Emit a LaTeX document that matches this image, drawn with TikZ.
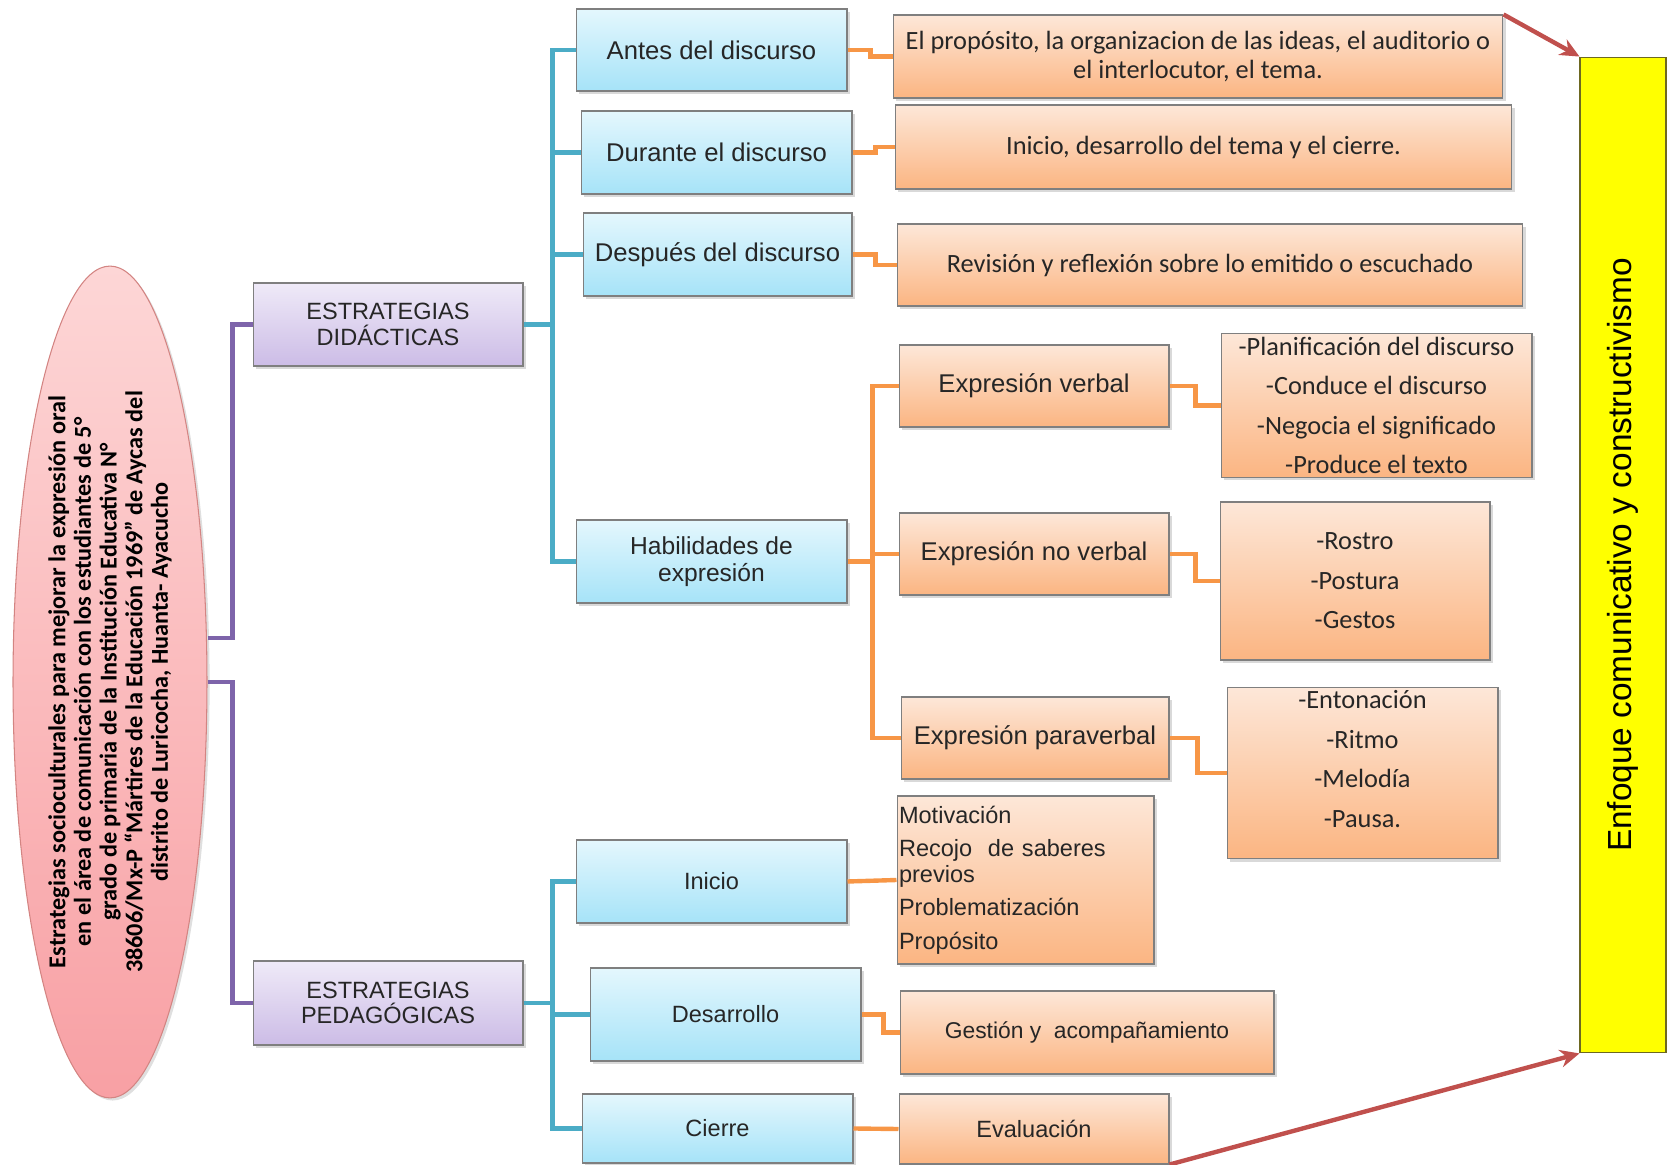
\documentclass[tikz,border=0pt]{standalone}
\usepackage{fontspec}
\setmainfont{Liberation Sans}
\newfontfamily\calfont{Carlito}
\usetikzlibrary{arrows.meta,shadows,shapes.geometric}

\definecolor{bluetop}{HTML}{E4F7FD}
\definecolor{bluebot}{HTML}{A6E3F8}
\definecolor{orangetop}{HTML}{FDE7D8}
\definecolor{orangebot}{HTML}{FBB582}
\definecolor{purpletop}{HTML}{EFEAF8}
\definecolor{purplebot}{HTML}{CCBCE6}
\definecolor{pinktop}{HTML}{FDD6D6}
\definecolor{pinkbot}{HTML}{F8A0A4}
\definecolor{linepurple}{HTML}{7E64AA}
\definecolor{lineblue}{HTML}{4BACC6}
\definecolor{lineorange}{HTML}{F79646}
\definecolor{arrowred}{HTML}{C0504D}
\definecolor{boxborder}{HTML}{7F7F7F}
\definecolor{enfoqueyellow}{HTML}{FFFF00}

\begin{document}
\begin{tikzpicture}[x=0.02cm,y=-0.02cm,
    box/.style={draw=boxborder,line width=0.6pt,inner sep=2pt,align=center,text=black!85,
        drop shadow={opacity=0.3,shadow xshift=1.5pt,shadow yshift=-1.5pt}},
    bluebox/.style={box,top color=bluetop,bottom color=bluebot,font=\fontsize{14.6}{15.5}\selectfont},
    purplebox/.style={box,top color=purpletop,bottom color=purplebot,font=\fontsize{13.4}{14.5}\selectfont},
    orangebox/.style={box,top color=orangetop,bottom color=orangebot,font=\fontsize{14.6}{16}\selectfont},
    notebox/.style={box,top color=orangetop,bottom color=orangebot,font=\calfont\fontsize{15}{16.2}\selectfont},
    listbox/.style={box,top color=orangetop,bottom color=orangebot,font=\calfont\fontsize{15}{22.5}\selectfont},
    purpleline/.style={draw=linepurple,line width=2.8pt},
    blueline/.style={draw=lineblue,line width=2.8pt},
    orangeline/.style={draw=lineorange,line width=2.5pt},
    redarrow/.style={draw=arrowred,line width=2.5pt,-{Stealth[length=11pt,width=10pt]}}
]
\useasboundingbox (0,0) rectangle (1668,1165);

\node[ellipse,draw=arrowred!70,line width=0.6pt,top color=pinktop,bottom color=pinkbot,
    minimum width=3.88cm,minimum height=16.64cm,inner sep=-1cm,
    drop shadow={opacity=0.25,shadow xshift=1.5pt,shadow yshift=-1.5pt},
    font=\calfont\bfseries\fontsize{13.8}{14.6}\selectfont] (tema) at (110,682)
    {\rotatebox{90}{\begin{minipage}{12.5cm}\centering
    Estrategias socioculturales para mejorar la expresión oral\\
    en el área de comunicación con los estudiantes de 5°\\
    grado de primaria de la Institución Educativa N°\\
    38606/Mx-P “Mártires de la Educación 1969” de Aycas del\\
    distrito de Luricocha, Huanta- Ayacucho\end{minipage}}};

\node[purplebox,minimum width=5.4cm,minimum height=1.66cm] (didac) at (388,324.5) {ESTRATEGIAS\\DIDÁCTICAS};
\node[purplebox,minimum width=5.4cm,minimum height=1.68cm] (pedag) at (388,1003) {ESTRATEGIAS\\PEDAGÓGICAS};

\node[bluebox,minimum width=5.42cm,minimum height=1.64cm] (antes) at (711.5,50) {Antes del discurso};
\node[bluebox,minimum width=5.42cm,minimum height=1.66cm] (durante) at (716.5,152.5) {Durante el discurso};
\node[bluebox,minimum width=5.38cm,minimum height=1.66cm] (despues) at (717.5,254.5) {Después del discurso};
\node[bluebox,minimum width=5.42cm,minimum height=1.66cm,font=\fontsize{14}{15}\selectfont] (habil) at (711.5,561.5) {Habilidades de\\expresión};
\node[bluebox,minimum width=5.42cm,minimum height=1.66cm,font=\fontsize{13.4}{15}\selectfont] (inicio) at (711.5,881.5) {Inicio};
\node[bluebox,minimum width=5.42cm,minimum height=1.86cm,font=\fontsize{13.4}{15}\selectfont] (desarrollo) at (725.5,1014.5) {Desarrollo};
\node[bluebox,minimum width=5.42cm,minimum height=1.38cm,font=\fontsize{13.4}{15}\selectfont] (cierre) at (717.5,1128.5) {Cierre};

\node[notebox,minimum width=12.2cm,minimum height=1.66cm] (txtantes) at (1198,56.5)
    {El propósito, la organizacion de las ideas, el auditorio o\\el interlocutor, el tema.};
\node[notebox,minimum width=12.34cm,minimum height=1.68cm] (txtdurante) at (1203.5,147)
    {Inicio, desarrollo del tema y el cierre.};
\node[notebox,minimum width=12.52cm,minimum height=1.64cm] (txtdespues) at (1210,265)
    {Revisión y reflexión sobre lo emitido o escuchado};

\node[orangebox,minimum width=5.4cm,minimum height=1.64cm] (verbal) at (1034,386) {Expresión verbal};
\node[orangebox,minimum width=5.4cm,minimum height=1.64cm] (noverbal) at (1034,554) {Expresión no verbal};
\node[orangebox,minimum width=5.36cm,minimum height=1.64cm] (paraverbal) at (1035,738) {Expresión paraverbal};

\node[listbox,minimum width=6.22cm,minimum height=2.74cm] (lstverbal) at (1376.5,405.5)
    {-Planificación del discurso\\-Conduce el discurso\\-Negocia el significado\\-Produce el texto};
\node[listbox,minimum width=5.4cm,minimum height=3.16cm] (lstnoverbal) at (1355,581)
    {-Rostro\\-Postura\\-Gestos};
\node[listbox,minimum width=5.42cm,minimum height=3.36cm] (lstparaverbal) at (1362.5,773)
    {-Entonación\\-Ritmo\\-Melodía\\-Pausa.\\[-6.5pt]\mbox{}};

\node[box,top color=orangetop,bottom color=orangebot,minimum width=5.14cm,minimum height=3.36cm,
    text width=5.06cm,inner xsep=1pt,align=left,font=\fontsize{13.4}{14.5}\selectfont] (lstinicio) at (1025.5,880)
    {Motivación\\[4.5pt]Recojo\ \ de saberes\\previos\\[4.5pt]Problematización\\[4.5pt]Propósito};
\node[box,top color=orangetop,bottom color=orangebot,minimum width=7.48cm,minimum height=1.66cm,
    font=\fontsize{13}{15}\selectfont] (txtdesarrollo) at (1087,1032.5) {Gestión y\ \ acompañamiento};
\node[box,top color=orangetop,bottom color=orangebot,minimum width=5.4cm,minimum height=1.4cm,
    font=\fontsize{13.4}{15}\selectfont] (txtcierre) at (1034,1129) {Evaluación};

\node[draw=olive!70!black,line width=0.6pt,fill=enfoqueyellow,minimum width=1.72cm,minimum height=19.92cm,
    inner sep=0pt,font=\fontsize{19}{21}\selectfont] (enfoque) at (1623,555)
    {\rotatebox{90}{Enfoque comunicativo y constructivismo}};

\draw[purpleline] ([yshift=0.88cm]tema.east) -- ++(0.5cm,0) |- (didac.west);
\draw[purpleline] (tema.east) -- ++(0.5cm,0) |- (pedag.west);

\draw[blueline] (didac.east) -- ++(0.58cm,0) coordinate (didacv);
\draw[blueline] (didacv) |- (antes.west);
\draw[blueline] (didacv) |- (durante.west);
\draw[blueline] (didacv) |- (despues.west);
\draw[blueline] (didacv) |- (habil.west);

\draw[blueline] (pedag.east) -- ++(0.58cm,0) coordinate (pedagv);
\draw[blueline] (pedagv) |- (inicio.west);
\draw[blueline] (pedagv) |- (desarrollo.west);
\draw[blueline] (pedagv) |- (cierre.west);

\draw[orangeline] (antes.east) -- ++(0.46cm,0) |- (txtantes.west);
\draw[orangeline] (durante.east) -- ++(0.46cm,0) |- (txtdurante.west);
\draw[orangeline] (despues.east) -- ++(0.46cm,0) |- (txtdespues.west);

\draw[orangeline] (habil.east) -- ++(0.5cm,0) coordinate (habilv);
\draw[orangeline] (habilv) |- (verbal.west);
\draw[orangeline] (habilv) |- (noverbal.west);
\draw[orangeline] (habilv) |- (paraverbal.west);

\draw[orangeline] (verbal.east) -- ++(0.52cm,0) |- (lstverbal.west);
\draw[orangeline] (noverbal.east) -- ++(0.52cm,0) |- (lstnoverbal.west);
\draw[orangeline] (paraverbal.east) -- ++(0.56cm,0) |- (lstparaverbal.west);

\draw[orangeline] (inicio.east) -- (lstinicio.west);
\draw[orangeline] (desarrollo.east) -- ++(0.44cm,0) |- (txtdesarrollo.west);
\draw[orangeline] (cierre.east) -- (txtcierre.west);

\draw[redarrow] (txtantes.north east) -- (enfoque.north west);
\draw[redarrow] (txtcierre.south east) -- (enfoque.south west);
\end{tikzpicture}
\end{document}
